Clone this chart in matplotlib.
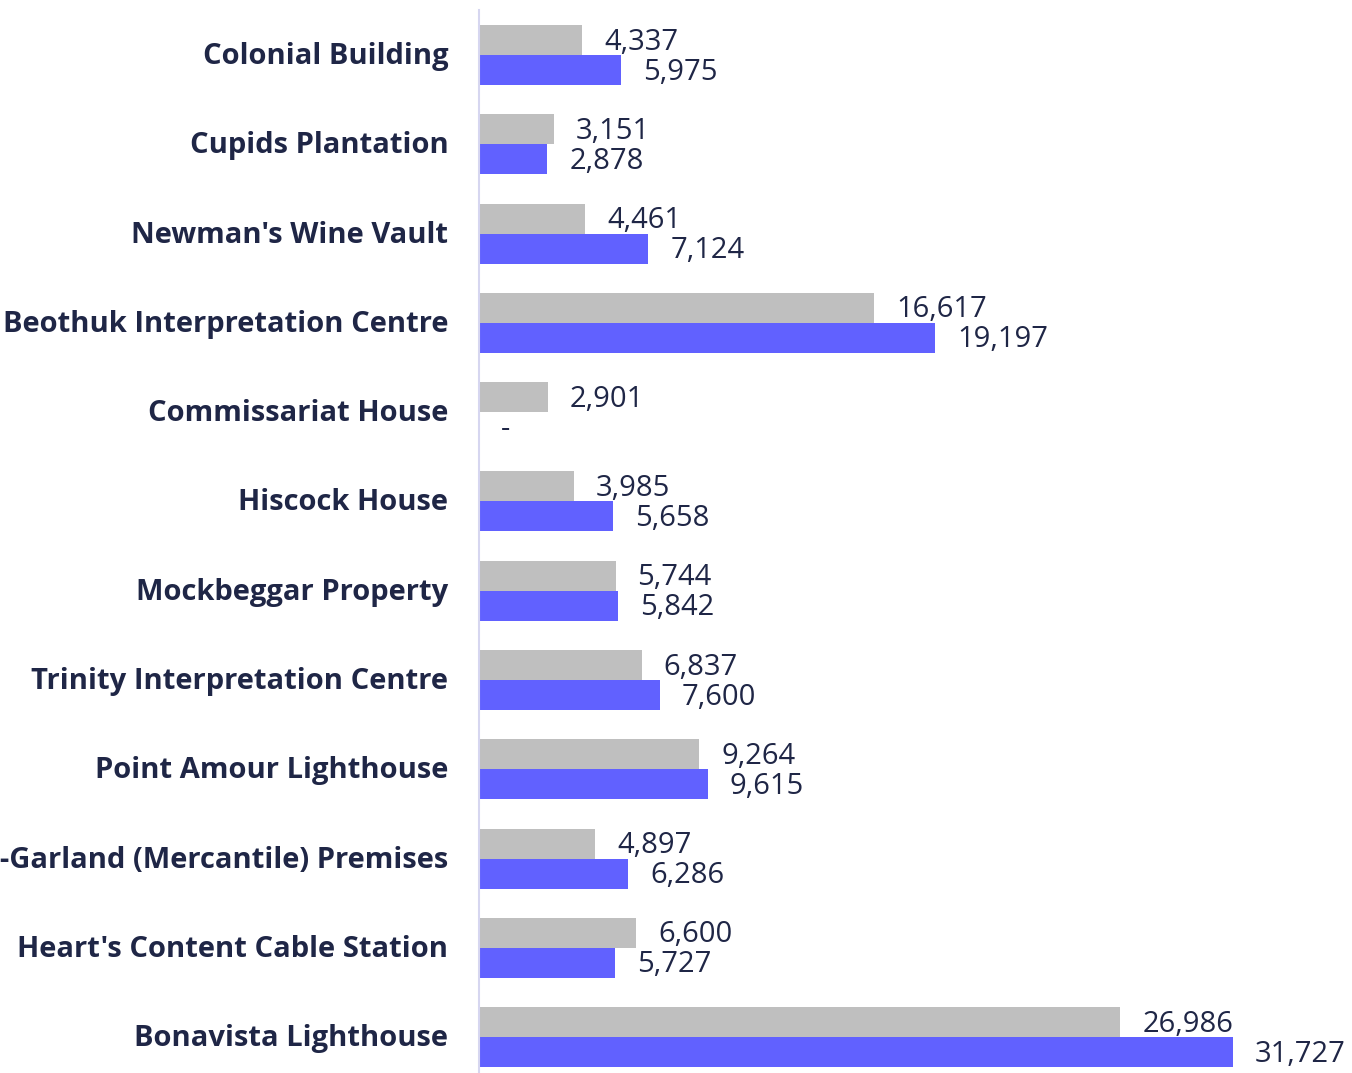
import matplotlib
matplotlib.use("Agg")
import matplotlib.pyplot as plt
import matplotlib.transforms as mtransforms
import numpy as np

# data
sites = ["Colonial Building", "Cupids Plantation", "Newman's Wine Vault",
         "Beothuk Interpretation Centre", "Commissariat House", "Hiscock House",
         "Mockbeggar Property", "Trinity Interpretation Centre",
         "Point Amour Lighthouse", "Lester-Garland (Mercantile) Premises",
         "Heart's Content Cable Station", "Bonavista Lighthouse"]
grey_vals = [4337, 3151, 4461, 16617, 2901, 3985, 5744, 6837, 9264, 4897, 6600, 26986]
blue_vals = [5975, 2878, 7124, 19197, 0, 5658, 5842, 7600, 9615, 6286, 5727, 31727]

GREY = "#BFBFBF"
BLUE = "#6161FF"
TEXT = "#1F2646"

plt.rcParams['font.family'] = ['Open Sans', 'DejaVu Sans']

fig = plt.figure(figsize=(13.52, 10.73), dpi=100)
ax = fig.add_axes([479/1352, 0, 873/1352, 1063/1073])

y = np.arange(len(sites))
h = 0.336
ax.barh(y - h/2, grey_vals, height=h, color=GREY)
ax.barh(y + h/2, blue_vals, height=h, color=BLUE)

def fmt(v):
    return "-" if v == 0 else f"{v:,}"

for i in range(len(sites)):
    ax.annotate(fmt(grey_vals[i]), (grey_vals[i], y[i] - h/2), xytext=(22, -2),
                textcoords="offset pixels", va="center", ha="left",
                fontsize=21, color=TEXT)
    ax.annotate(fmt(blue_vals[i]), (blue_vals[i], y[i] + h/2), xytext=(22, -2),
                textcoords="offset pixels", va="center", ha="left",
                fontsize=21, color=TEXT)

ax.set_xlim(0, 873/0.02377)
ax.set_ylim(11.40, -0.504)
ax.set_yticks(y)
ax.set_yticklabels(sites, fontsize=21, fontweight="bold", color=TEXT)
ax.tick_params(axis="y", length=0, pad=22)
# nudge category labels up a touch
shift = mtransforms.ScaledTranslation(0, 2/100, fig.dpi_scale_trans)
for lbl in ax.get_yticklabels():
    lbl.set_transform(lbl.get_transform() + shift)
ax.set_xticks([])
for s in ["top", "right", "bottom"]:
    ax.spines[s].set_visible(False)
ax.spines["left"].set_color("#D6D6F0")
ax.spines["left"].set_linewidth(1.5)

fig.savefig("out.png", dpi=100)
